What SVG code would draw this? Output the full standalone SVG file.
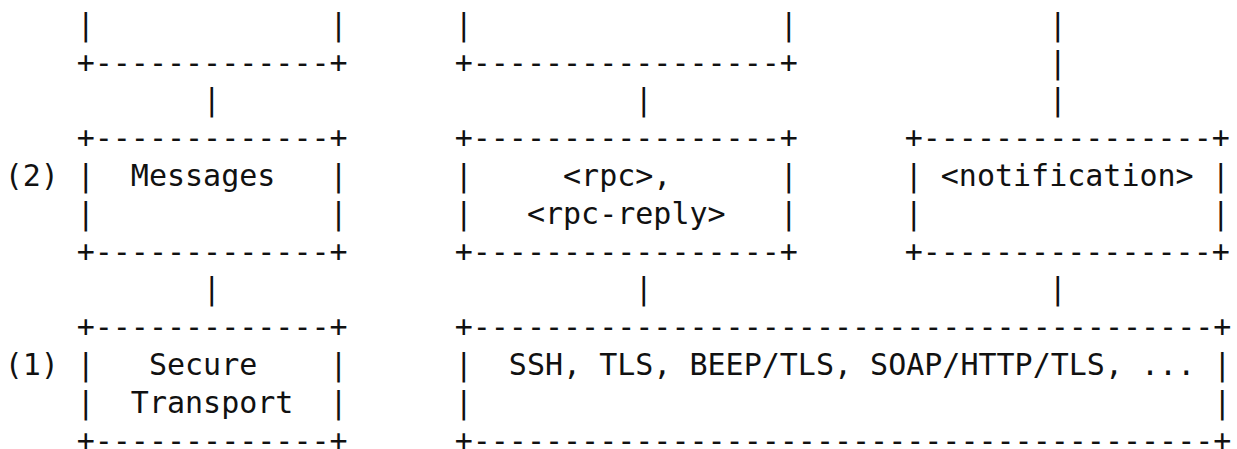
<svg xmlns="http://www.w3.org/2000/svg" width="1237" height="449" viewBox="0 0 1237 449" xml:space="preserve">
  <style>
    text { font-family: "DejaVu Sans Mono", "Liberation Mono", monospace; font-size: 30px; fill: #111111; white-space: pre; }
  </style>
  <rect width="1237" height="449" fill="#ffffff"/>

  <!-- character grid: column c starts at x = -49.3 + 18c, row r baseline at 34.8 + 37.8r -->

  <!-- layer labels -->
  <g id="layer-labels">
    <text x="4.7" y="186">(2)</text>
    <text x="4.7" y="375">(1)</text>
  </g>

  <!-- upper boxes, cut off at the top -->
  <g id="upper-left">
    <text x="76.7" y="34.8">|             |</text>
    <text x="76.7" y="72.6">+-------------+</text>
  </g>
  <g id="upper-middle">
    <text x="454.7" y="34.8">|                 |</text>
    <text x="454.7" y="72.6">+-----------------+</text>
  </g>

  <!-- layer 2 -->
  <g id="messages">
    <text x="76.7" y="148.2">+-------------+</text>
    <text x="76.7" y="186">|  Messages   |</text>
    <text x="76.7" y="223.8">|             |</text>
    <text x="76.7" y="261.6">+-------------+</text>
  </g>
  <g id="rpc">
    <text x="454.7" y="148.2">+-----------------+</text>
    <text x="454.7" y="186">|     &lt;rpc&gt;,      |</text>
    <text x="454.7" y="223.8">|   &lt;rpc-reply&gt;   |</text>
    <text x="454.7" y="261.6">+-----------------+</text>
  </g>
  <g id="notification">
    <text x="904.7" y="148.2">+----------------+</text>
    <text x="904.7" y="186">| &lt;notification&gt; |</text>
    <text x="904.7" y="223.8">|                |</text>
    <text x="904.7" y="261.6">+----------------+</text>
  </g>

  <!-- layer 1 -->
  <g id="secure-transport">
    <text x="76.7" y="337.2">+-------------+</text>
    <text x="76.7" y="375">|   Secure    |</text>
    <text x="76.7" y="412.8">|  Transport  |</text>
    <text x="76.7" y="450.6">+-------------+</text>
  </g>
  <g id="transports">
    <text x="454.7" y="337.2">+-----------------------------------------+</text>
    <text x="454.7" y="375">|  SSH, TLS, BEEP/TLS, SOAP/HTTP/TLS, ... |</text>
    <text x="454.7" y="412.8">|                                         |</text>
    <text x="454.7" y="450.6">+-----------------------------------------+</text>
  </g>

  <!-- vertical connectors between layers -->
  <g id="connectors">
    <text x="1048.7" y="34.8">|</text>
    <text x="1048.7" y="72.6">|</text>
    <text x="202.7" y="110.4">|</text>
    <text x="634.7" y="110.4">|</text>
    <text x="1048.7" y="110.4">|</text>
    <text x="202.7" y="299.4">|</text>
    <text x="634.7" y="299.4">|</text>
    <text x="1048.7" y="299.4">|</text>
  </g>
</svg>
